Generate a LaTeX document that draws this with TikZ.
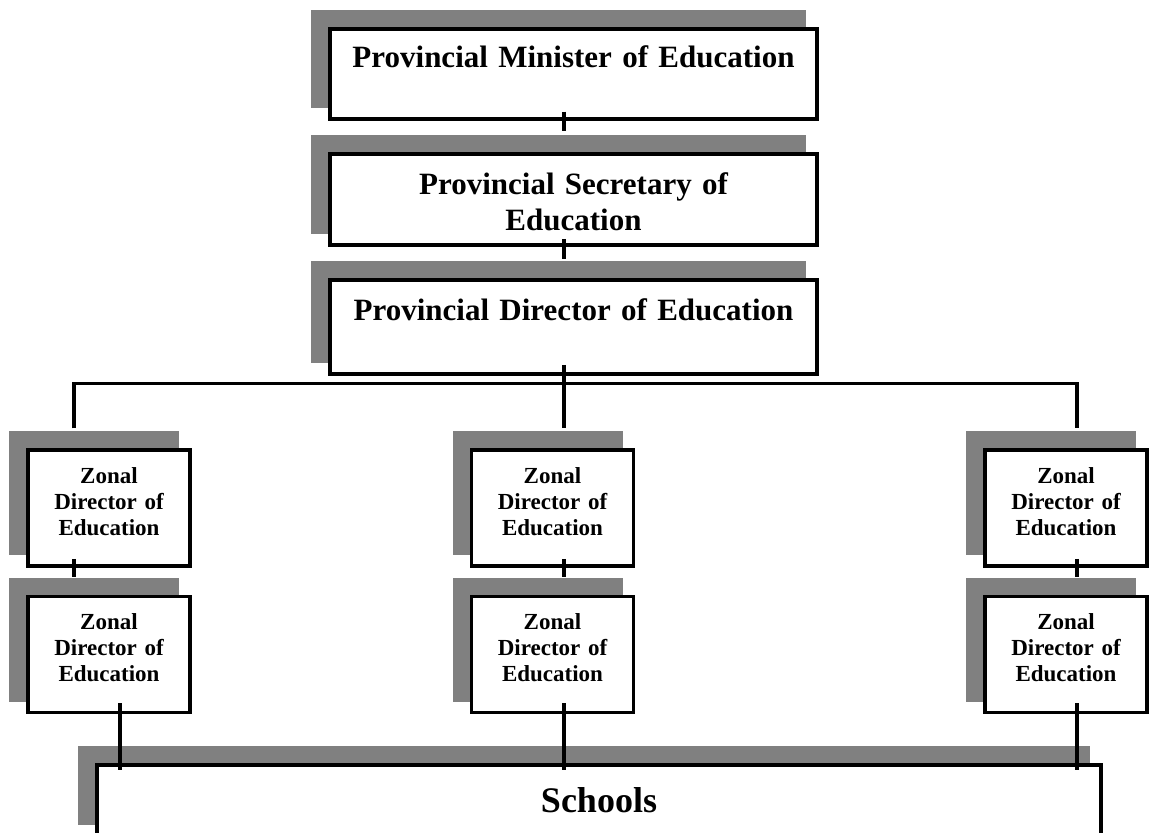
\documentclass[tikz,border=0pt]{standalone}
\usepackage{fontspec}
\setmainfont{Liberation Serif}
\usetikzlibrary{shadows}

\begin{document}
\begin{tikzpicture}[x=1pt, y=-1pt,
  box/.style={draw=black, fill=white, line width=3.5pt, inner sep=0pt, align=center,
    general shadow={fill=gray, draw=gray, line width=8pt, shadow xshift=-15pt, shadow yshift=15pt}},
  provbox/.style={box, text width=487pt, font=\fontsize{31}{36}\selectfont\bfseries},
  zonebox/.style={box, text width=162pt, text height=33pt, text depth=83pt,
    font=\fontsize{23}{26}\selectfont\bfseries},
  conn/.style={line width=3.5pt}]
\useasboundingbox (0,0) rectangle (1150,832);
\clip (0,0) rectangle (1150,832);

% provincial boxes
\node[provbox, text height=39pt, text depth=51pt] (min) at (573.5,74) {Provincial Minister of Education};
\node[provbox, text height=40pt, text depth=51pt] (sec) at (573.5,199.5) {Provincial Secretary of\\Education};
\node[provbox, text height=40pt, text depth=54pt] (dir) at (573.5,327) {Provincial Director of Education};

% zonal boxes
\foreach \n/\x in {l/109, m/552.5, r/1066} {
  \node[zonebox] (z\n1) at (\x,508) {Zonal\\Director of\\Education};
  \node[zonebox] (z\n2) at (\x,654.5) {Zonal\\Director of\\Education};
}

% schools
\node[box, text width=1004pt, text height=47pt, text depth=24pt,
  font=\fontsize{36}{43}\selectfont\bfseries] (sch) at (599,800.5) {Schools};

% vertical links
\draw[conn] ([xshift=-9.5pt,yshift=9pt]min.south) -- ([xshift=-9.5pt,yshift=21pt]sec.north);
\draw[conn] ([xshift=-9.5pt,yshift=8pt]sec.south) -- ([xshift=-9.5pt,yshift=19pt]dir.north);
\draw[conn] ([xshift=-9.5pt,yshift=11pt]dir.south) -- ([xshift=11.5pt,yshift=20pt]zm1.north);

% horizontal bus
\draw[conn] ([xshift=-35pt,yshift=20pt]zl1.north) -- ++(0,-45) -| ([xshift=11pt,yshift=20pt]zr1.north);

% zonal links
\foreach \n/\dx in {l/-35, m/11.5, r/11}
  \draw[conn] ([xshift=\dx pt,yshift=9pt]z\n1.south) -- ([xshift=\dx pt,yshift=18pt]z\n2.north);
\foreach \n/\dx in {l/11, m/11.5, r/11}
  \draw[conn] ([xshift=\dx pt,yshift=11pt]z\n2.south) coordinate (top\n) -- ([yshift=-7pt]top\n |- sch.north);
\end{tikzpicture}
\end{document}
